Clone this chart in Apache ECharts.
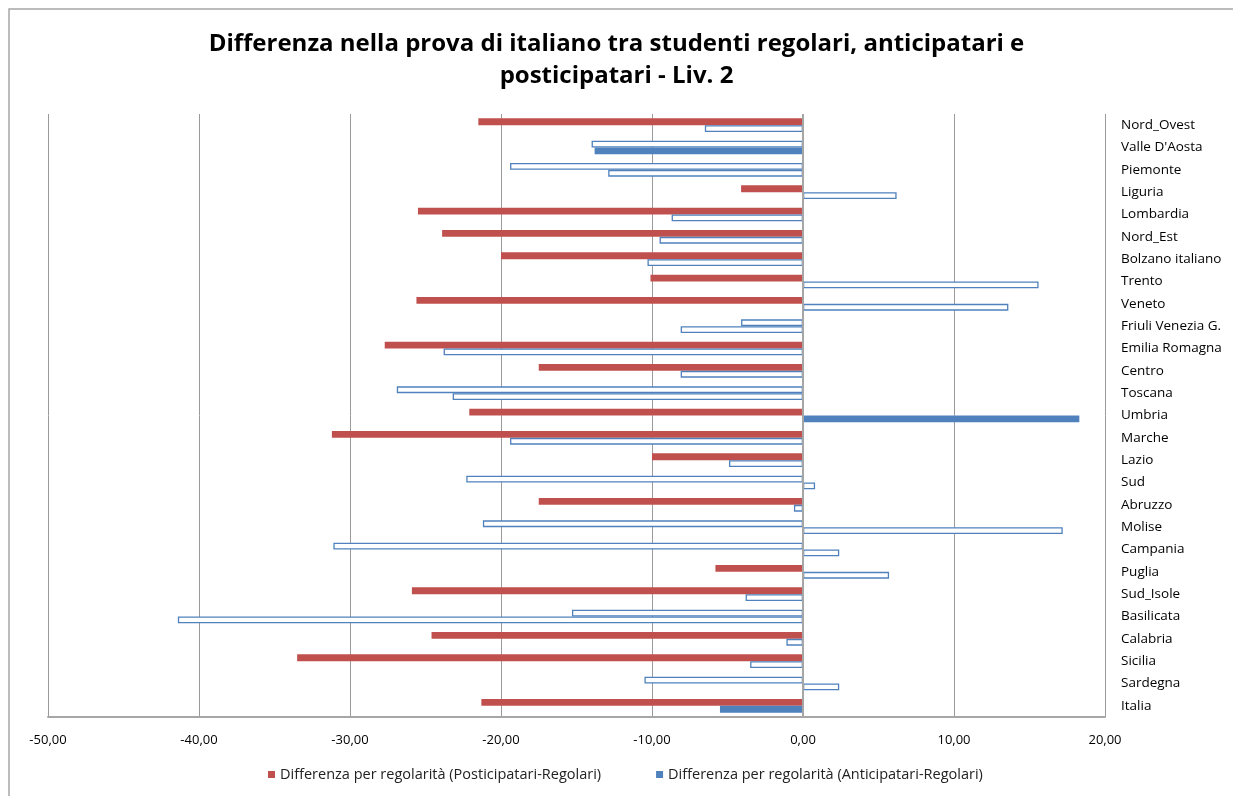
<!DOCTYPE html>
<html>
<head>
<meta charset="utf-8">
<script src="https://cdn.jsdelivr.net/npm/echarts@6/dist/echarts.min.js"></script>
<style>
html,body{margin:0;padding:0;background:#fff;}
#chart{width:1233px;height:796px;}
</style>
</head>
<body>
<div id="chart"></div>
<script>
var categories = ['Nord_Ovest', "Valle D'Aosta", 'Piemonte', 'Liguria', 'Lombardia', 'Nord_Est', 'Bolzano italiano', 'Trento', 'Veneto', 'Friuli Venezia G.', 'Emilia Romagna', 'Centro', 'Toscana', 'Umbria', 'Marche', 'Lazio', 'Sud', 'Abruzzo', 'Molise', 'Campania', 'Puglia', 'Sud_Isole', 'Basilicata', 'Calabria', 'Sicilia', 'Sardegna', 'Italia'];
var posticipatari = [-21.5, -14.0, -19.4, -4.1, -25.5, -23.9, -20.0, -10.1, -25.6, -4.1, -27.7, -17.5, -26.9, -22.1, -31.2, -10.0, -22.3, -17.5, -21.2, -31.1, -5.8, -25.9, -15.3, -24.6, -33.5, -10.5, -21.3];
var anticipatari = [-6.5, -13.8, -12.9, 6.2, -8.7, -9.5, -10.3, 15.6, 13.6, -8.1, -23.8, -8.1, -23.2, 18.3, -19.4, -4.9, 0.8, -0.6, 17.2, 2.4, 5.7, -3.8, -41.4, -1.1, -3.5, 2.4, -5.5];
// 1 = significant (filled bar), 0 = not significant (outlined bar)
var posticipatariSig = [1,0,0,1,1,1,1,1,1,0,1,1,0,1,1,1,0,1,0,0,1,1,0,1,1,0,1];
var anticipatariSig = [0,1,0,0,0,0,0,0,0,0,0,0,0,1,0,0,0,0,0,0,0,0,0,0,0,0,1];
var xTicks = {min: -50, max: 20, interval: 10};
var seriesNames = ['Differenza per regolarità (Posticipatari-Regolari)', 'Differenza per regolarità (Anticipatari-Regolari)'];

var RED = '#C0504D', BLUE = '#4F81BD';
var FONT = '"Open Sans", sans-serif';

function buildData(vals, sig, color) {
  return vals.map(function (v, i) {
    if (sig[i]) return {value: v, itemStyle: {color: color, borderWidth: 0}};
    return {value: v, itemStyle: {color: '#ffffff', borderColor: BLUE, borderWidth: 1.3}};
  });
}

var chart = echarts.init(document.getElementById('chart'));
chart.setOption({
  animation: false,
  backgroundColor: '#fff',
  title: {
    text: 'Differenza nella prova di italiano tra studenti regolari, anticipatari e\nposticipatari - Liv. 2',
    left: 'center',
    top: 23,
    textStyle: {fontFamily: FONT, fontSize: 24, fontWeight: 'bold', color: '#000', lineHeight: 32}
  },
  graphic: [{
    type: 'rect', shape: {x: 9, y: 9, width: 1260, height: 820},
    style: {fill: 'none', stroke: '#a6a6a6', lineWidth: 1.5}, silent: true
  }],
  legend: {
    bottom: 9,
    left: 263,
    itemWidth: 7, itemHeight: 7, itemGap: 55,
    icon: 'rect',
    textStyle: {fontFamily: FONT, fontSize: 14.5, color: '#222'},
    data: seriesNames
  },
  grid: {left: 48, right: 128, top: 114, bottom: 79, containLabel: false},
  xAxis: {
    type: 'value',
    min: xTicks.min, max: xTicks.max, interval: xTicks.interval,
    axisLine: {show: true, onZero: false, lineStyle: {color: '#a6a6a6', width: 2}},
    axisTick: {show: false},
    splitLine: {show: true, lineStyle: {color: '#9a9a9a', width: 1}},
    axisLabel: {
      fontFamily: FONT, fontSize: 13, color: '#000', margin: 17,
      formatter: function (v) { return v.toFixed(2).replace('.', ','); }
    }
  },
  yAxis: {
    type: 'category',
    data: categories,
    inverse: true,
    position: 'right',
    axisLine: {show: false},
    axisTick: {show: false},
    splitLine: {show: false},
    axisLabel: {fontFamily: FONT, fontSize: 13.5, color: '#000', margin: 16, align: 'left'}
  },
  series: [{
    name: seriesNames[0],
    type: 'bar',
    barWidth: 6.8,
    barGap: '0%',
    itemStyle: {color: RED},
    data: buildData(posticipatari, posticipatariSig, RED),
    markLine: {
      silent: true, symbol: 'none', label: {show: false},
      lineStyle: {color: '#a6a6a6', width: 2, type: 'solid'},
      data: [{xAxis: 0}]
    }
  }, {
    name: seriesNames[1],
    type: 'bar',
    barWidth: 6.8,
    barGap: '0%',
    itemStyle: {color: BLUE},
    data: buildData(anticipatari, anticipatariSig, BLUE)
  }]
});
</script>
</body>
</html>
